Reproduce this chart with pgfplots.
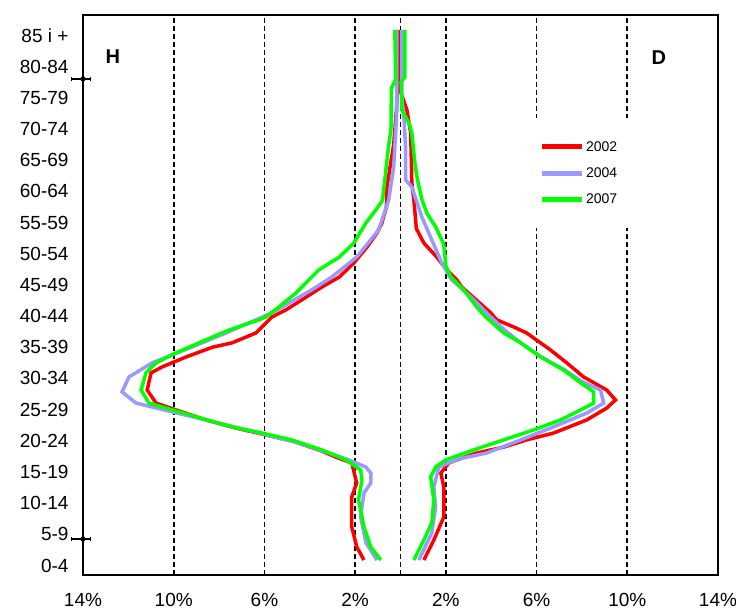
\documentclass[border=0pt]{standalone}
\usepackage{fontspec}
\setmainfont{Liberation Sans}
\usepackage{pgfplots}
\pgfplotsset{compat=1.18}
\definecolor{cred}{RGB}{255,0,0}
\definecolor{cblue}{RGB}{153,153,255}
\definecolor{cgreen}{RGB}{0,255,0}
\begin{document}
\begin{tikzpicture}
\begin{axis}[
  at={(0,0)}, anchor=south west,
  scale only axis, width=635bp, height=560bp,
  xmin=-14, xmax=14, ymin=-0.3, ymax=17.65,
  axis line style={line width=1.5bp, black},
  xtick={-14,-10,-6,-2,2,6,10,14},
  xticklabels={14\%,10\%,6\%,2\%,2\%,6\%,10\%,14\%},
  extra x ticks={0}, extra x tick labels={},
  xmajorgrids, extra x tick style={grid=major},
  grid style={black, line width=1.7bp, dash pattern=on 5bp off 3bp},
  major tick length=0pt,
  ytick={0,...,17},
  yticklabels={0-4,5-9,10-14,15-19,20-24,25-29,30-34,35-39,40-44,45-49,50-54,55-59,60-64,65-69,70-74,75-79,80-84,85 i +},
  tick label style={font=\fontsize{19bp}{21bp}\selectfont},
  x tick label style={yshift=-15bp},
  y tick label style={xshift=-11bp},
  clip=false,
  legend style={at={(0.699,0.816)}, anchor=north west, draw=none, fill=white,
    font=\fontsize{14bp}{16bp}\selectfont, row sep=11bp, inner xsep=12bp, inner ysep=21bp},
  legend cell align=left,
  legend image code/.code={\draw[#1, line width=5bp] (0bp,0bp) -- (40bp,0bp);},
]
\addplot[cred, line width=3.5bp] coordinates {
(-0.12,17.17) (-0.12,15.6) (-0.18,14.6) (-0.30,13.5) (-0.50,12.6) (-0.60,12.14) (-0.62,11.5) (-0.82,10.98) (-1.04,10.66) (-1.48,10.21) (-2.06,9.70) (-2.70,9.25) (-3.47,8.93) (-4.35,8.52) (-5.05,8.20) (-5.67,7.97) (-6.37,7.46) (-7.43,7.14) (-8.30,7.00) (-9.45,6.69) (-10.51,6.37) (-11.00,6.18) (-11.17,5.63) (-10.78,5.21) (-9.90,4.99) (-8.58,4.67) (-7.20,4.40) (-6.00,4.20) (-4.70,3.98) (-3.50,3.68) (-2.85,3.48) (-2.15,3.29) (-1.93,2.65) (-2.15,2.20) (-2.15,1.24) (-1.93,0.60) (-1.61,0.18)
};
\addlegendentry{2002}
\addplot[cblue, line width=3.5bp] coordinates {
(-0.16,17.17) (-0.16,14.6) (-0.30,12.78) (-0.52,11.72) (-0.96,10.76) (-1.93,9.89) (-3.03,9.25) (-3.91,8.84) (-4.92,8.42) (-5.67,8.10) (-6.37,7.88) (-7.69,7.46) (-9.19,7.01) (-10.95,6.50) (-11.97,6.05) (-12.28,5.57) (-11.66,5.21) (-10.08,4.93) (-8.58,4.67) (-6.24,4.25) (-4.48,3.93) (-2.28,3.39) (-1.53,3.16) (-1.31,2.97) (-1.31,2.65) (-1.61,2.33) (-1.76,1.56) (-1.52,0.73) (-1.04,0.18)
};
\addlegendentry{2004}
\addplot[cgreen, line width=3.5bp] coordinates {
(-0.25,17.17) (-0.21,15.6) (-0.40,15.3) (-0.42,14.0) (-0.55,13.3) (-0.70,12.3) (-0.80,11.7) (-1.09,11.40) (-1.53,10.98) (-2.06,10.34) (-2.70,9.89) (-3.60,9.48) (-4.04,9.16) (-4.61,8.74) (-5.36,8.29) (-5.94,7.97) (-6.24,7.88) (-7.57,7.55) (-8.89,7.14) (-9.90,6.82) (-10.78,6.50) (-11.22,6.18) (-11.44,5.63) (-11.09,5.21) (-10.34,5.05) (-9.02,4.77) (-7.43,4.45) (-6.11,4.25) (-4.79,4.03) (-3.47,3.71) (-2.41,3.39) (-1.76,3.07) (-1.70,2.75) (-1.85,2.11) (-1.61,1.24) (-1.31,0.60) (-0.87,0.18)
};
\addlegendentry{2007}
\addplot[cred, line width=3.5bp, forget plot] coordinates {
(0.00,17.17) (0.00,15.2) (0.28,14.61) (0.45,13.87) (0.50,12.27) (0.59,11.72) (0.70,10.8) (1.03,10.34) (1.60,9.89) (2.04,9.48) (2.48,9.16) (2.70,8.93) (3.98,8.10) (4.24,7.88) (4.99,7.65) (5.56,7.46) (6.00,7.23) (6.62,6.91) (7.33,6.50) (8.07,6.05) (9.09,5.63) (9.48,5.31) (9.09,5.05) (8.21,4.67) (6.75,4.25) (5.56,4.03) (4.55,3.80) (3.36,3.61) (2.48,3.39) (2.13,3.29) (1.78,2.97) (1.91,2.52) (1.91,1.56) (1.47,0.82) (1.03,0.18)
};
\addplot[cblue, line width=3.5bp, forget plot] coordinates {
(0.06,17.17) (0.06,15.0) (0.15,14.38) (0.23,13.32) (0.23,12.36) (0.50,12.14) (0.94,11.18) (1.38,10.44) (1.82,9.70) (2.26,9.16) (3.10,8.61) (3.98,7.97) (4.60,7.55) (5.30,7.14) (6.20,6.69) (7.25,6.27) (8.00,5.90) (8.82,5.63) (8.96,5.21) (8.21,4.89) (6.75,4.45) (5.30,4.03) (3.80,3.61) (2.55,3.42) (1.69,3.16) (1.47,2.52) (1.55,1.88) (1.38,1.05) (0.81,0.18)
};
\addplot[cgreen, line width=3.5bp, forget plot] coordinates {
(0.19,17.17) (0.19,15.66) (0.03,15.5) (0.06,14.61) (0.37,14.19) (0.50,13.87) (0.65,12.8) (0.75,12.36) (0.95,11.72) (1.16,11.30) (1.55,10.86) (1.91,10.30) (2.00,9.60) (2.22,9.25) (2.79,8.84) (3.36,8.29) (3.76,7.97) (4.55,7.46) (5.30,7.14) (6.18,6.69) (7.19,6.27) (7.94,5.86) (8.52,5.57) (8.52,5.21) (7.94,4.99) (7.06,4.67) (5.87,4.35) (4.55,4.03) (3.23,3.71) (2.00,3.39) (1.55,3.16) (1.33,2.84) (1.47,2.11) (1.38,1.37) (1.03,0.82) (0.59,0.18)
};
\addplot[black, line width=1.2bp, only marks, mark=none, forget plot,
  error bars/.cd, x dir=both, x explicit,
  error bar style={line width=1.2bp}] coordinates {
(-14,15.60) += (0.31,0) -= (0.54,0)
(-14,0.855) += (0.31,0) -= (0.54,0)
};
\node[font=\bfseries\fontsize{20bp}{22bp}\selectfont] at (rel axis cs:0.047,0.925) {H};
\node[font=\bfseries\fontsize{20bp}{22bp}\selectfont] at (rel axis cs:0.907,0.923) {D};
\end{axis}
\pgfresetboundingbox
\path (-83bp,-40bp) rectangle (653bp,575bp);
\end{tikzpicture}
\end{document}
